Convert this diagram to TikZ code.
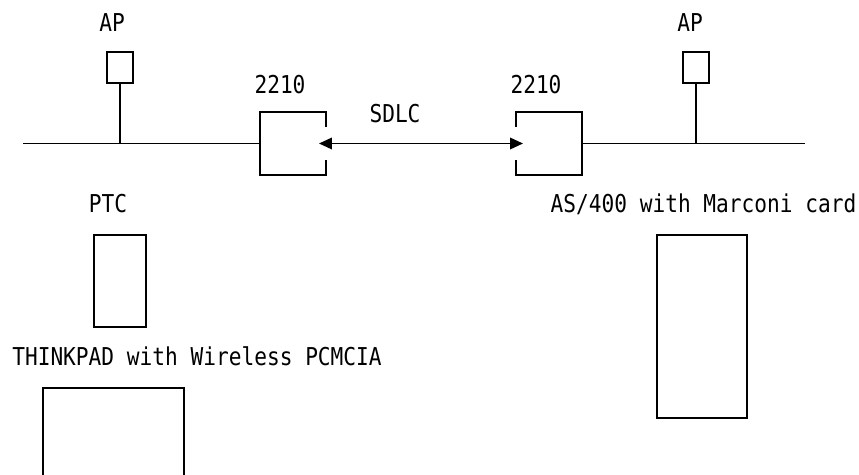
\documentclass[tikz,border=0pt]{standalone}
\usepackage{fontspec}
\setmonofont[FakeStretch=0.86]{DejaVu Sans Mono}
\usepackage{tikz}
\usetikzlibrary{arrows.meta,positioning,calc}

\begin{document}
\begin{tikzpicture}[>={Triangle[length=2.6mm,width=2.3mm]}, line width=1.1pt,
  font=\ttfamily\fontsize{14}{16}\selectfont,
  unit/.style={draw, inner sep=0pt},
  label/.style={inner sep=0pt}]

  \useasboundingbox (0,0) rectangle (17.18,9.5);
  \clip (0,0) rectangle (17.18,9.5);

  % Define nodes
  \node[unit, minimum width=0.52cm, minimum height=0.62cm] (apL) at (2.4, 8.15) {};
  \node[unit, minimum width=0.52cm, minimum height=0.62cm] (apR) at (13.92, 8.15) {};
  \node[inner sep=0pt, minimum width=1.28cm, minimum height=1.22cm] (rtL) at (5.86, 6.63) {};
  \node[inner sep=0pt, minimum width=1.28cm, minimum height=1.22cm] (rtR) at (10.98, 6.63) {};
  \node[unit, minimum width=1.04cm, minimum height=1.84cm] (ptc) at (2.4, 3.88) {};
  \node[unit, minimum width=2.82cm, minimum height=2.1cm] (tp) at (2.27, 0.69) {};
  \node[unit, minimum width=1.8cm, minimum height=3.66cm] (as) at (14.04, 2.97) {};
  \coordinate (endL) at (0.46, 6.63);
  \coordinate (endR) at (16.1, 6.63);

  % Labels
  \node[label] (n1) at (2.24, 9.04) {AP};
  \node[label] (n2) at (13.8, 9.04) {AP};
  \node[label] (n3) at (5.6, 7.8) {2210};
  \node[label] (n4) at (10.72, 7.8) {2210};
  \node[label] (n5) at (7.9, 7.22) {SDLC};
  \node[label] (n6) at (2.16, 5.42) {PTC};
  \node[label] (n7) at (3.94, 2.38) {THINKPAD with Wireless PCMCIA};
  \node[label] (n8) at (14.07, 5.42) {AS/400 with Marconi card};

  % 2210 boxes, open where the link goes in
  \draw (rtL.north east) ++(0,-0.29) -- (rtL.north east) -- (rtL.north west)
    -- (rtL.south west) -- (rtL.south east) -- ++(0,0.29);
  \draw (rtR.north west) ++(0,-0.29) -- (rtR.north west) -- (rtR.north east)
    -- (rtR.south east) -- (rtR.south west) -- ++(0,0.29);

  % Draw lines
  \draw (endL) -- (rtL.west);
  \draw (rtR.east) -- (endR);
  \draw (apL.south) -- (apL.south |- endL);
  \draw (apR.south) -- (apR.south |- endR);
  \draw[<->] ($(rtL.east)+(-0.14,0)$) -- ($(rtR.west)+(0.14,0)$);
\end{tikzpicture}
\end{document}
